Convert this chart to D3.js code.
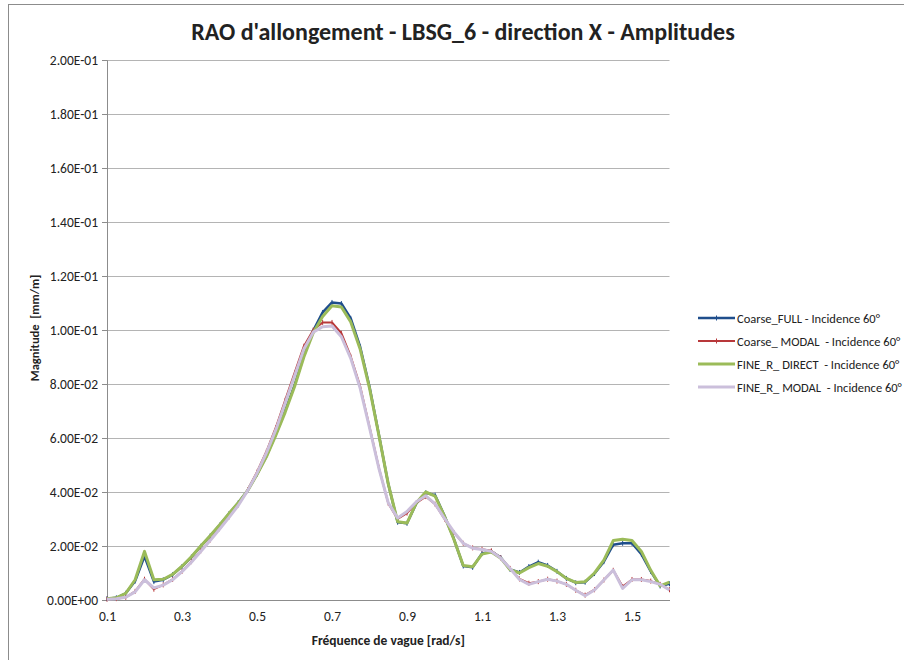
<!DOCTYPE html>
<html>
<head>
<meta charset="utf-8">
<script src="https://cdn.jsdelivr.net/npm/d3@7"></script>
<style>
  body { margin: 0; background: #fff; }
  svg text { font-family: Carlito, 'Liberation Sans Narrow', 'Liberation Sans', Arial, sans-serif; fill: #222; white-space: pre; }
  .grid-line { stroke: #b4b4b4; stroke-width: 1; }
  .line { fill: none; stroke-linejoin: round; }
</style>
</head>
<body>
<svg id="plotarea"></svg>
<script>
// wave frequency categories [rad/s]
const freqs = [0.1, 0.125, 0.15, 0.175, 0.2, 0.225, 0.25, 0.275, 0.3, 0.325,
               0.35, 0.375, 0.4, 0.425, 0.45, 0.475, 0.5, 0.525, 0.55, 0.575,
               0.6, 0.625, 0.65, 0.675, 0.7, 0.725, 0.75, 0.775, 0.8, 0.825,
               0.85, 0.875, 0.9, 0.925, 0.95, 0.975, 1.0, 1.025, 1.05, 1.075,
               1.1, 1.125, 1.15, 1.175, 1.2, 1.225, 1.25, 1.275, 1.3, 1.325,
               1.35, 1.375, 1.4, 1.425, 1.45, 1.475, 1.5, 1.525, 1.55, 1.575, 1.6];

const coarseFull = [0.0005, 0.0008, 0.0025, 0.0070, 0.0162, 0.0068, 0.0075, 0.0094, 0.0124, 0.0159,
                    0.0199, 0.0237, 0.0277, 0.0319, 0.0360, 0.0406, 0.0466, 0.0532, 0.0613, 0.0700,
                    0.0795, 0.0905, 0.0998, 0.1065, 0.1102, 0.1098, 0.1043, 0.0938, 0.0790, 0.0612,
                    0.0430, 0.0288, 0.0284, 0.0358, 0.0397, 0.0388, 0.0312, 0.0226, 0.0126, 0.0121,
                    0.0172, 0.0180, 0.0157, 0.0113, 0.0102, 0.0124, 0.0140, 0.0128, 0.0106, 0.0080,
                    0.0064, 0.0066, 0.0098, 0.0142, 0.0205, 0.0210, 0.0210, 0.0170, 0.0106, 0.0052, 0.0060];

const coarseModal = [0.0003, 0.0005, 0.0010, 0.0032, 0.0077, 0.0040, 0.0056, 0.0076, 0.0106, 0.0142,
                     0.0182, 0.0222, 0.0264, 0.0307, 0.0352, 0.0408, 0.0474, 0.0550, 0.0638, 0.0740,
                     0.0840, 0.0940, 0.1000, 0.1028, 0.1028, 0.0988, 0.0902, 0.0792, 0.0642, 0.0490,
                     0.0358, 0.0300, 0.0322, 0.0360, 0.0383, 0.0355, 0.0300, 0.0250, 0.0210, 0.0193,
                     0.0188, 0.0182, 0.0156, 0.0117, 0.0078, 0.0062, 0.0068, 0.0077, 0.0070, 0.0058,
                     0.0036, 0.0018, 0.0038, 0.0074, 0.0110, 0.0050, 0.0076, 0.0076, 0.0070, 0.0058, 0.0038];

const fineDirect = [0.0005, 0.0008, 0.0025, 0.0075, 0.0180, 0.0075, 0.0077, 0.0095, 0.0125, 0.0160,
                    0.0200, 0.0238, 0.0278, 0.0320, 0.0360, 0.0405, 0.0465, 0.0530, 0.0610, 0.0695,
                    0.0790, 0.0900, 0.0990, 0.1050, 0.1090, 0.1085, 0.1030, 0.0930, 0.0785, 0.0610,
                    0.0430, 0.0290, 0.0285, 0.0360, 0.0400, 0.0385, 0.0310, 0.0225, 0.0128, 0.0123,
                    0.0170, 0.0178, 0.0155, 0.0112, 0.0100, 0.0120, 0.0135, 0.0125, 0.0105, 0.0080,
                    0.0065, 0.0068, 0.0100, 0.0148, 0.0220, 0.0225, 0.0220, 0.0180, 0.0110, 0.0052, 0.0066];

const fineModal = [0.0003, 0.0005, 0.0010, 0.0030, 0.0075, 0.0045, 0.0055, 0.0075, 0.0105, 0.0140,
                   0.0180, 0.0220, 0.0262, 0.0305, 0.0350, 0.0405, 0.0470, 0.0545, 0.0630, 0.0730,
                   0.0830, 0.0930, 0.0992, 0.1012, 0.1015, 0.0975, 0.0895, 0.0785, 0.0638, 0.0488,
                   0.0360, 0.0304, 0.0328, 0.0364, 0.0386, 0.0356, 0.0302, 0.0252, 0.0210, 0.0192,
                   0.0187, 0.0180, 0.0155, 0.0117, 0.0076, 0.0058, 0.0068, 0.0077, 0.0070, 0.0058,
                   0.0036, 0.0016, 0.0037, 0.0074, 0.0111, 0.0043, 0.0075, 0.0075, 0.0068, 0.0058, 0.0037];

const seriesNames = ['Coarse_FULL - Incidence 60°', 'Coarse_ MODAL  - Incidence 60°',
                     'FINE_R_ DIRECT  - Incidence 60°', 'FINE_R_ MODAL  - Incidence 60°'];
const seriesColors = ['#1f4e8c', '#b8383a', '#9bbb59', '#cbbfdb'];
const seriesWidths = [2.5, 2, 3, 3];

const xTicks = [0.1, 0.3, 0.5, 0.7, 0.9, 1.1, 1.3, 1.5];
const yTicks = [0, 0.02, 0.04, 0.06, 0.08, 0.1, 0.12, 0.14, 0.16, 0.18, 0.2];

const title = "RAO d'allongement - LBSG_6 - direction X - Amplitudes";
const xTitle = 'Fréquence de vague [rad/s]';
const yTitle = 'Magnitude  [mm/m]';

const margin = { top: 60, bottom: 60, left: 107, right: 234.5 };
const dims = { width: 904 - margin.left - margin.right, height: 660 - margin.top - margin.bottom };

function sciFormat(v) {
    if (v === 0) return '0.00E+00';
    var e = Math.floor(Math.log10(v) + 1e-9);
    var m = v / Math.pow(10, e);
    var s = e < 0 ? '-' : '+';
    return m.toFixed(2) + 'E' + s + String(Math.abs(e)).padStart(2, '0');
}

function draw() {
    var root = d3.select('#plotarea')
                 .attr('width', 904)
                 .attr('height', 660);

    // chart border
    root.append('rect')
        .attr('x', 8.5).attr('y', 4.5)
        .attr('width', 1000).attr('height', 1000)
        .attr('fill', 'none')
        .attr('stroke', '#8c8c8c');

    var svg = root.append('g')
                  .attr('transform', `translate(${margin.left}, ${margin.top})`);

    var x = d3.scaleLinear().domain([0.1, 1.6]).range([0, dims.width]);
    var y = d3.scaleLinear().domain([0, 0.2]).range([dims.height, 0]);

    // gridlines
    svg.selectAll('line.grid-line')
       .data(yTicks.slice(1))
       .enter().append('line')
       .attr('class', 'grid-line')
       .attr('x1', 0).attr('x2', dims.width)
       .attr('y1', d => Math.round(y(d)) + 0.5)
       .attr('y2', d => Math.round(y(d)) + 0.5);

    // Y axis
    var yAxis = svg.append('g')
       .attr('class', 'y-axis')
       .call(d3.axisLeft(y).tickValues(yTicks).tickFormat(sciFormat).tickSize(5).tickPadding(4));
    yAxis.select('.domain').attr('stroke', '#8c8c8c');
    yAxis.selectAll('.tick line').attr('stroke', '#8c8c8c');
    yAxis.selectAll('text').style('font-size', '13.5px').attr('fill', '#222');

    // X axis
    var xAxis = svg.append('g')
       .attr('class', 'x-axis')
       .attr('transform', 'translate(0,' + dims.height + ')')
       .call(d3.axisBottom(x).tickValues(xTicks).tickFormat(d3.format('.1f')).tickSize(0).tickPadding(11));
    xAxis.select('.domain').attr('stroke', '#8c8c8c');
    xAxis.selectAll('text').style('font-size', '13.5px').attr('fill', '#222');

    // series lines
    var allSeries = [coarseFull, coarseModal, fineDirect, fineModal];
    var line = d3.line()
                 .x((d, i) => x(freqs[i]))
                 .y(d => y(d));

    allSeries.forEach(function(s, k) {
        svg.append('path')
           .attr('class', 'line')
           .attr('stroke', seriesColors[k])
           .attr('stroke-width', seriesWidths[k])
           .attr('d', line(s));
        if (k < 2) {
            svg.selectAll('.mk' + k)
               .data(s)
               .enter().append('line')
               .attr('class', 'mk' + k)
               .attr('stroke', seriesColors[k])
               .attr('stroke-width', 1)
               .attr('x1', (d, i) => x(freqs[i])).attr('x2', (d, i) => x(freqs[i]))
               .attr('y1', d => y(d) - 2.5).attr('y2', d => y(d) + 2.5);
        }
    });

    // titles
    root.append('text')
        .attr('x', 463).attr('y', 40)
        .style('text-anchor', 'middle')
        .style('font-size', '24px')
        .style('font-weight', 'bold')
        .text(title);

    root.append('text')
        .attr('x', margin.left + dims.width / 2).attr('y', 645)
        .style('text-anchor', 'middle')
        .style('font-size', '13.5px')
        .style('font-weight', 'bold')
        .text(xTitle);

    root.append('text')
        .attr('transform', `translate(39, ${margin.top + dims.height / 2 - 2}) rotate(-90)`)
        .style('text-anchor', 'middle')
        .style('font-size', '12.5px')
        .style('font-weight', 'bold')
        .text(yTitle);

    // legend
    var legend = root.append('g')
                     .attr('transform', 'translate(698, 318)');
    var items = legend.selectAll('g')
                      .data(seriesNames)
                      .enter().append('g')
                      .attr('transform', (d, i) => `translate(0, ${i * 23})`);
    items.append('line')
         .attr('x1', 0).attr('x2', 37).attr('y1', 0).attr('y2', 0)
         .attr('stroke', (d, i) => seriesColors[i])
         .attr('stroke-width', (d, i) => seriesWidths[i]);
    items.filter((d, i) => i < 2).append('line')
         .attr('x1', 18.5).attr('x2', 18.5).attr('y1', -2.5).attr('y2', 2.5)
         .attr('stroke', (d, i) => seriesColors[i]);
    items.append('text')
         .attr('x', 39).attr('y', 4.5)
         .style('font-size', '12.5px')
         .text(d => d);
}

draw();
</script>
</body>
</html>
